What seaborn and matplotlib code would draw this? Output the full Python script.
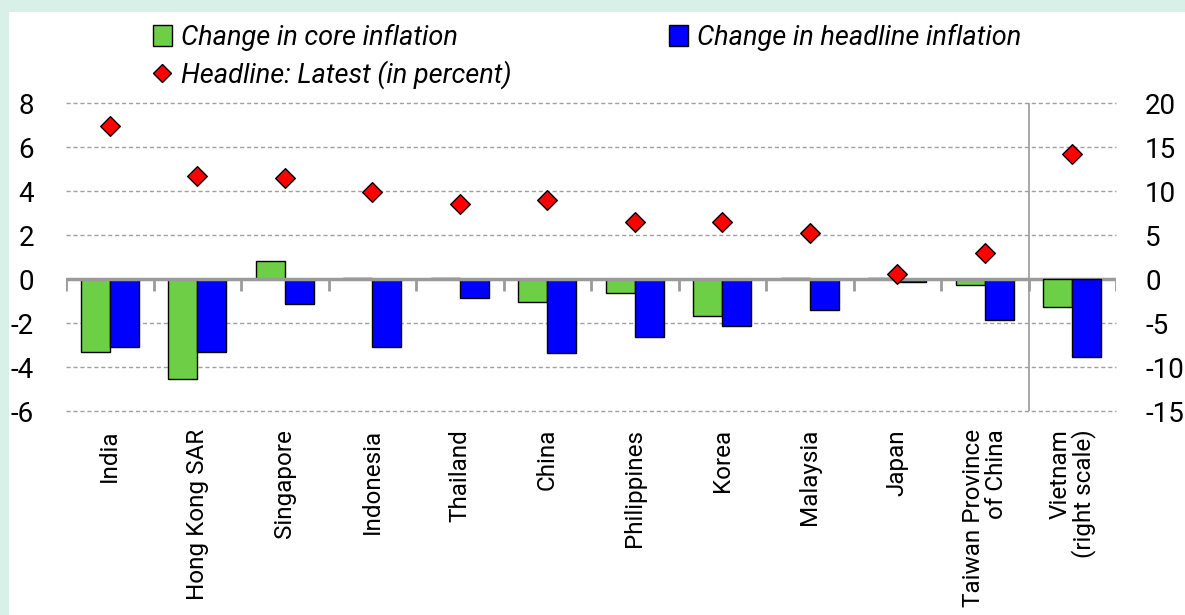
import matplotlib
matplotlib.use("Agg")
import matplotlib.pyplot as plt
from matplotlib.patches import Rectangle, Patch
from matplotlib.lines import Line2D
import seaborn as sns
import pandas as pd
import numpy as np

# data (Vietnam is on the right scale)
countries = ["India", "Hong Kong SAR", "Singapore", "Indonesia", "Thailand", "China",
             "Philippines", "Korea", "Malaysia", "Japan", "Taiwan Province\nof China",
             "Vietnam\n(right scale)"]
core_change = [-3.3, -4.55, 0.8, 0.05, 0.05, -1.05, -0.65, -1.7, 0.05, 0.05, -0.25, -3.2]
headline_change = [-3.1, -3.3, -1.15, -3.1, -0.85, -3.35, -2.65, -2.15, -1.4, -0.12, -1.85, -8.9]
headline_latest = [6.95, 4.7, 4.6, 3.95, 3.4, 3.6, 2.6, 2.6, 2.1, 0.25, 1.2, 14.2]
series_names = ["Change in core inflation", "Change in headline inflation"]
latest_name = "Headline: Latest (in percent)"
left_ticks = [-6, -4, -2, 0, 2, 4, 6, 8]
right_ticks = [-15, -10, -5, 0, 5, 10, 15, 20]

green = "#6CCF45"
blue = "#0000FF"
mint = "#D8F0E8"


def main():
    sns.set_theme(style="white")
    plt.rcParams["font.family"] = ["Roboto", "DejaVu Sans"]
    plt.rcParams["axes.unicode_minus"] = False
    plt.rcParams["text.color"] = "black"
    plt.rcParams["xtick.color"] = "black"
    plt.rcParams["ytick.color"] = "black"

    df = pd.DataFrame({
        "country": countries * 2,
        "series": [series_names[0]] * len(countries) + [series_names[1]] * len(countries),
        "value": core_change + headline_change,
    })
    pts = pd.DataFrame({"country": countries, "latest": headline_latest})
    last = countries[-1]
    df_left = df[df["country"] != last]
    df_right = df[df["country"] == last]

    fig = plt.figure(figsize=(11.85, 6.15), dpi=100)
    fig.patch.set_facecolor(mint)
    fig.add_artist(Rectangle((9 / 1185, 0), 1, 1 - 12 / 615, transform=fig.transFigure,
                             facecolor="white", edgecolor="none", zorder=-10))
    ax = fig.add_axes([66 / 1185, 1 - 411 / 615, 1050 / 1185, 308 / 615])
    ax.set_facecolor("none")
    ax2 = ax.twinx()

    bar_kw = dict(x="country", y="value", hue="series", order=countries,
                  hue_order=series_names, palette=[green, blue], width=0.66,
                  edgecolor="black", linewidth=1, saturation=1, legend=False, zorder=3)
    sns.barplot(data=df_left, ax=ax, **bar_kw)
    sns.barplot(data=df_right, ax=ax2, **bar_kw)

    dot_kw = dict(x="country", y="latest", order=countries, jitter=False, marker="D",
                  color="red", edgecolor="black", linewidth=1, size=10, zorder=5)
    sns.stripplot(data=pts[pts["country"] != last], ax=ax, **dot_kw)
    sns.stripplot(data=pts[pts["country"] == last], ax=ax2, **dot_kw)

    ax.set_ylim(-6, 8)
    ax2.set_ylim(-15, 20)
    ax.set_xlim(-0.5, len(countries) - 0.5)

    # dashed gridlines, solid zero line with category separators
    for v in left_ticks:
        if v != 0:
            ax.axhline(v, color="#A0A0A0", lw=1, ls=(0, (3, 2)), zorder=1, clip_on=False)
    ax.axhline(0, color="#9A9A9A", lw=2.5, zorder=4)
    ax.vlines(np.arange(len(countries) + 1) - 0.5, -0.55, 0, color="#9A9A9A", lw=2, zorder=4)
    ax.axvline(len(countries) - 1.5, color="#9A9A9A", lw=1.2, zorder=2)

    for a in (ax, ax2):
        for s in a.spines.values():
            s.set_visible(False)
        a.set_xlabel("")
        a.set_ylabel("")
    ax.set_yticks(left_ticks)
    ax.set_yticklabels([str(t) for t in left_ticks])
    ax2.set_yticks(right_ticks)
    ax2.set_yticklabels([str(t) for t in right_ticks])
    ax.tick_params(axis="y", length=0, pad=23, labelsize=20)
    ax2.tick_params(axis="y", length=0, pad=21, labelsize=20)

    ax.set_xticks(range(len(countries)))
    ax.set_xticklabels(countries, rotation=90, ha="center", va="top",
                       multialignment="right", fontsize=17.5, linespacing=1.0)
    ax.tick_params(axis="x", length=0, pad=13)

    handles = [
        Patch(facecolor=green, edgecolor="black", lw=1),
        Line2D([], [], marker="D", color="red", markeredgecolor="black", ls="none", markersize=9),
        Patch(facecolor=blue, edgecolor="black", lw=1),
    ]
    labels = [series_names[0], latest_name, series_names[1]]
    fig.legend(handles, labels, ncol=2, loc="upper left", bbox_to_anchor=(153 / 1185, 1 - 24 / 615),
               frameon=False, prop={"style": "italic", "size": 19.5}, handlelength=0.7,
               handleheight=0.85, handletextpad=0.35, labelspacing=0.35, columnspacing=5.8,
               borderpad=0, borderaxespad=0)

    fig.savefig("out.png", dpi=100, facecolor=fig.get_facecolor())


if __name__ == "__main__":
    main()
